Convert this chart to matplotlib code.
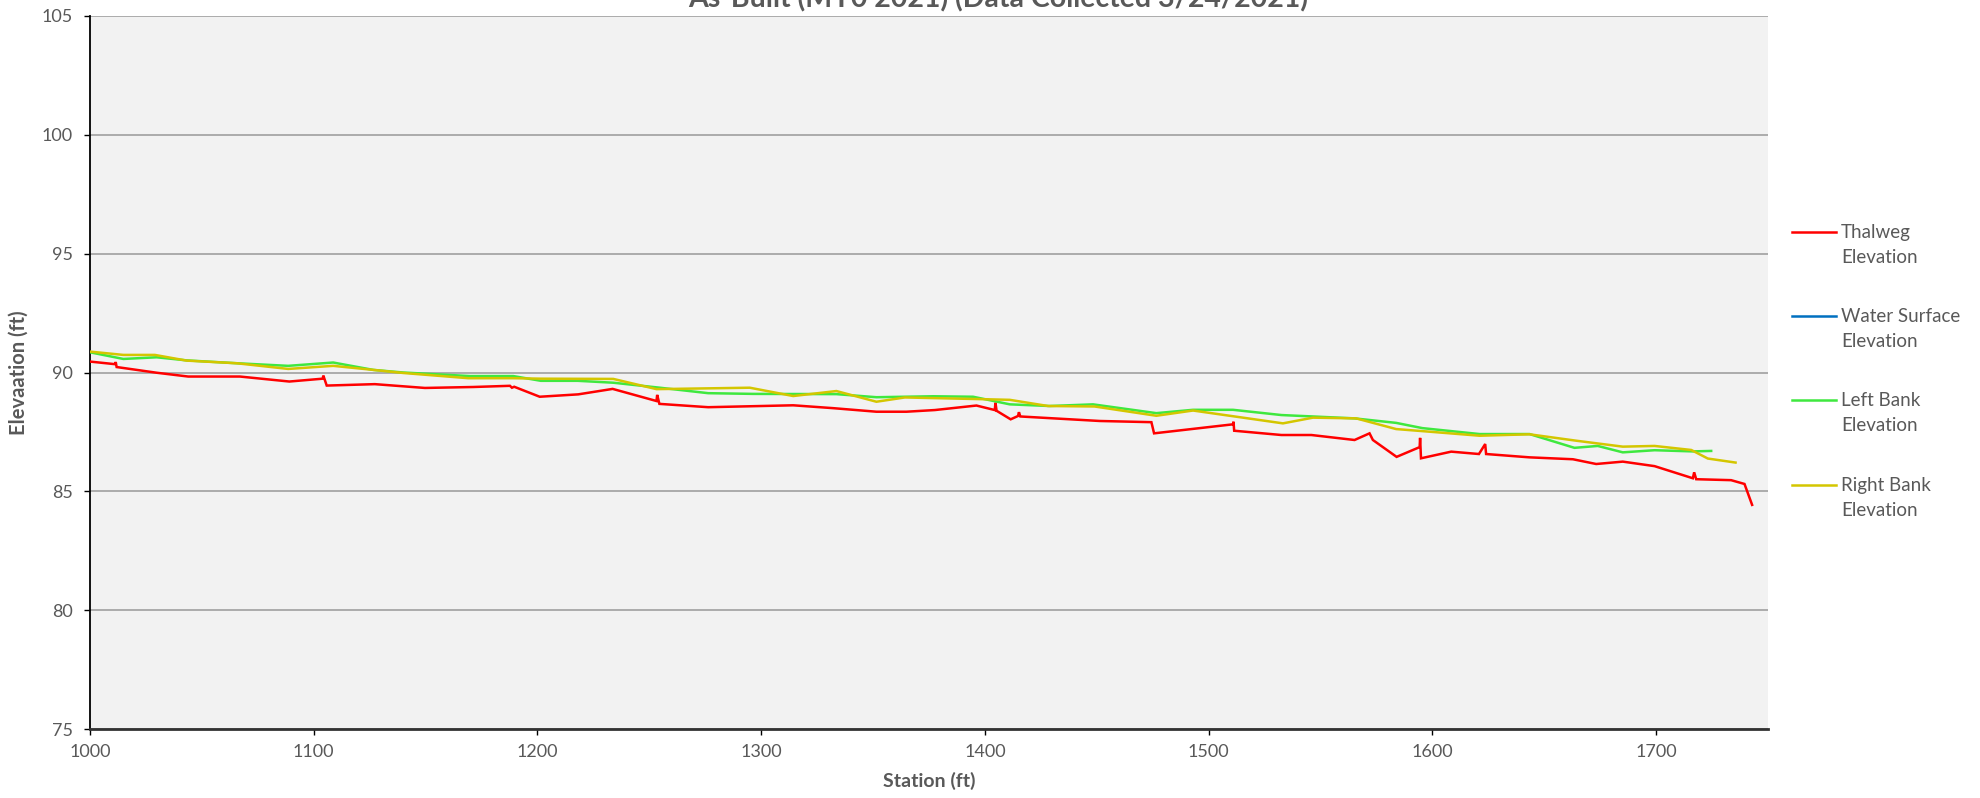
import matplotlib
matplotlib.use("Agg")
import matplotlib.pyplot as plt
from matplotlib.lines import Line2D

# ---------------- data ----------------
thalweg_station = [1000, 1011.2, 1011.5, 1011.9, 1029.8, 1043.9, 1067.0, 1089.1, 1104.0, 1104.3,
                   1105.8, 1127.3, 1149.7, 1171.3, 1187.7, 1188.6, 1189.6, 1201.0, 1218.2, 1233.6,
                   1253.2, 1253.5, 1254.5, 1276.3, 1314.3, 1332.1, 1351.5, 1364.9, 1377.6, 1396.2,
                   1404.4, 1404.7, 1405.2, 1411.5, 1414.8, 1415.2, 1415.8, 1451.3, 1474.4, 1475.6,
                   1510.9, 1511.1, 1511.4, 1532.5, 1545.9, 1565.2, 1571.9, 1573.4, 1584.0, 1594.3,
                   1594.5, 1594.9, 1608.4, 1620.8, 1623.6, 1624.0, 1643.4, 1662.8, 1673.2, 1685.1,
                   1699.3, 1716.4, 1717.0, 1717.9, 1733.5, 1739.5, 1742.9]
thalweg_elev = [90.46, 90.35, 90.44, 90.23, 89.99, 89.83, 89.83, 89.62, 89.74, 89.87,
                89.45, 89.51, 89.35, 89.39, 89.44, 89.36, 89.40, 88.98, 89.08, 89.31,
                88.80, 89.06, 88.68, 88.54, 88.62, 88.50, 88.35, 88.35, 88.42, 88.61,
                88.42, 88.73, 88.39, 88.03, 88.17, 88.33, 88.15, 87.96, 87.91, 87.44,
                87.82, 87.93, 87.55, 87.37, 87.37, 87.16, 87.44, 87.16, 86.45, 86.86,
                87.25, 86.39, 86.67, 86.57, 86.99, 86.57, 86.43, 86.35, 86.15, 86.25,
                86.06, 85.55, 85.80, 85.51, 85.47, 85.31, 84.43]

water_station = []
water_elev = []

left_station = [1000, 1014.9, 1029.8, 1043.2, 1065.5, 1088.6, 1108.7, 1126.6, 1140.0, 1169.8,
                1189.2, 1201.5, 1218.0, 1233.9, 1254.7, 1276.3, 1296.4, 1333.6, 1351.5, 1376.9,
                1394.7, 1411.1, 1428.9, 1448.3, 1476.6, 1493.0, 1510.9, 1532.5, 1565.2, 1583.8,
                1595.5, 1621.1, 1643.4, 1663.5, 1673.9, 1685.1, 1699.3, 1716.4, 1724.6]
left_elev = [90.85, 90.57, 90.64, 90.51, 90.39, 90.28, 90.42, 90.11, 90.00, 89.85,
             89.85, 89.65, 89.65, 89.57, 89.36, 89.13, 89.10, 89.09, 88.96, 89.00,
             88.98, 88.66, 88.59, 88.66, 88.29, 88.43, 88.43, 88.21, 88.07, 87.88,
             87.66, 87.41, 87.41, 86.83, 86.91, 86.64, 86.73, 86.68, 86.70]

right_station = [1000, 1014.9, 1029.0, 1043.2, 1065.5, 1088.6, 1108.7, 1126.6, 1140.0, 1169.0,
                 1189.2, 1201.5, 1233.9, 1253.2, 1294.9, 1314.3, 1333.6, 1351.5, 1364.2, 1397.7,
                 1411.1, 1428.2, 1449.0, 1476.6, 1493.0, 1533.2, 1546.6, 1565.9, 1583.8, 1597.3,
                 1621.1, 1643.4, 1664.3, 1685.1, 1699.3, 1715.7, 1723.1, 1735.5]
right_elev = [90.88, 90.74, 90.74, 90.50, 90.39, 90.15, 90.28, 90.11, 89.98, 89.76,
              89.76, 89.74, 89.73, 89.30, 89.36, 89.01, 89.22, 88.77, 88.95, 88.88,
              88.85, 88.59, 88.57, 88.18, 88.40, 87.86, 88.10, 88.07, 87.62, 87.52,
              87.34, 87.40, 87.13, 86.88, 86.91, 86.74, 86.38, 86.21]

series_labels = ["Thalweg\nElevation", "Water Surface\nElevation",
                 "Left Bank\nElevation", "Right Bank\nElevation"]
series_colors = ["#FF0000", "#0070C0", "#3FE83F", "#D4C600"]

title_text = "As-Built (MY0 2021) (Data Collected 3/24/2021)"
x_ticks = [1000, 1100, 1200, 1300, 1400, 1500, 1600, 1700]
y_ticks = [75, 80, 85, 90, 95, 100, 105]

# ---------------- figure ----------------
W, H = 1980, 798
plt.rcParams['font.family'] = ['Lato', 'DejaVu Sans']
fig = plt.figure(figsize=(W / 100, H / 100), dpi=100)
fig.patch.set_facecolor("white")

L, R, T, B = 90, 1768, 16, 729
ax = fig.add_axes([L / W, 1 - B / H, (R - L) / W, (B - T) / H])
ax.set_facecolor("#F2F2F2")

stations = [thalweg_station, water_station, left_station, right_station]
elevs = [thalweg_elev, water_elev, left_elev, right_elev]
for s, e, c in zip(stations, elevs, series_colors):
    ax.plot(s, e, color=c, lw=1.8, solid_joinstyle='miter', zorder=3)

ax.set_xlim(1000, 1750)
ax.set_ylim(75, 105)
ax.set_xticks(x_ticks)
ax.set_yticks(y_ticks)
ax.yaxis.grid(True, color="#A6A6A6", lw=1.3, zorder=1)
ax.set_axisbelow(True)

for sp in ["top", "right"]:
    ax.spines[sp].set_visible(False)
ax.spines["left"].set_color("black")
ax.spines["left"].set_linewidth(1.3)
ax.spines["bottom"].set_color("#333333")
ax.spines["bottom"].set_linewidth(2.0)

text_color = "#595959"
ax.tick_params(axis="both", direction="out", length=4.5, width=1.0, color="black",
               labelsize=13, labelcolor=text_color)
ax.tick_params(axis="y", pad=8)
ax.tick_params(axis="x", pad=6)

ax.set_xlabel("Station (ft)", fontsize=14, fontweight="bold", color=text_color, labelpad=9)
ax.set_ylabel("Elevaation (ft)", fontsize=14.5, fontweight="bold", color=text_color, labelpad=9)

fig.text(0.504, 1 - 7.5 / H, title_text, ha="center", va="baseline",
         fontsize=20.5, fontweight="bold", color="#595959")

# legend
leg_y = [232, 316, 400, 485]
for y, lab, c in zip(leg_y, series_labels, series_colors):
    fig.add_artist(Line2D([1792 / W, 1836 / W], [1 - y / H, 1 - y / H],
                          color=c, lw=1.8, transform=fig.transFigure))
    fig.text(1841 / W, 1 - (y - 8) / H, lab, ha="left", va="top",
             fontsize=13.5, color=text_color, linespacing=1.55)

fig.savefig("out.png", dpi=100, facecolor="white")
